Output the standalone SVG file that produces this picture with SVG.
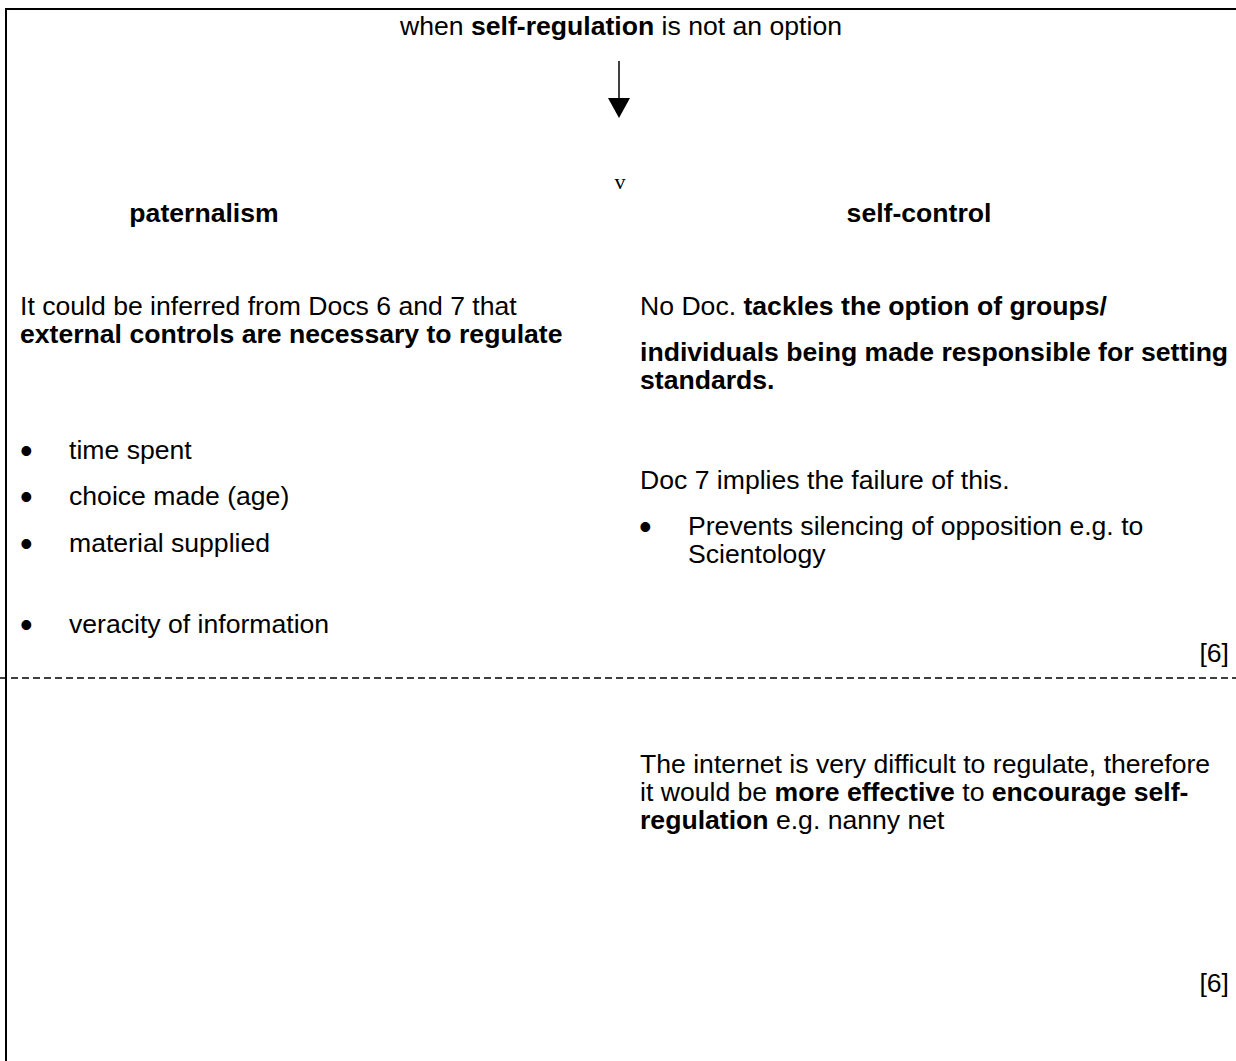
<svg xmlns="http://www.w3.org/2000/svg" width="1236" height="1061" viewBox="0 0 1236 1061">
<style>
text{font-family:"Liberation Sans",Arial,sans-serif;font-size:26.6px;fill:#000}
.b{font-weight:bold}
.bul{font-size:36px}
.serif{font-family:"Liberation Serif","Times New Roman",serif;font-size:22px}
.frame{stroke:#000;stroke-width:2;fill:none}
.dash{stroke:#000;stroke-width:1.5;stroke-dasharray:7 4;fill:none}
</style>
<rect width="1236" height="1061" fill="#fff"/>
<g id="frame">
<path class="frame" d="M6,1061 V9 H1236"/>
<line class="dash" x1="0" y1="678" x2="1236" y2="678"/>
</g>
<g id="connectors">
<path d="M619,61 V98" stroke="#000" stroke-width="1.5"/>
<path d="M608,98 L630,98 L619,118 Z" fill="#000"/>
</g>
<g id="header">
<text x="621" y="35" text-anchor="middle">when <tspan class="b">self-regulation</tspan> is not an option</text>
<text class="serif" x="620" y="189" text-anchor="middle">v</text>
</g>
<g id="paternalism">
<text class="b" x="204" y="222" text-anchor="middle">paternalism</text>
<text x="20" y="315">It could be inferred from Docs 6 and 7 that</text>
<text class="b" x="20" y="343">external controls are necessary to regulate</text>
<text class="bul" x="20" y="463">•</text><text x="69" y="459">time spent</text>
<text class="bul" x="20" y="509">•</text><text x="69" y="505">choice made (age)</text>
<text class="bul" x="20" y="556">•</text><text x="69" y="552">material supplied</text>
<text class="bul" x="20" y="637">•</text><text x="69" y="633">veracity of information</text>
</g>
<g id="self-control">
<text class="b" x="919" y="222" text-anchor="middle">self-control</text>
<text x="640" y="315">No Doc. <tspan class="b">tackles the option of groups/</tspan></text>
<text class="b" x="640" y="361">individuals being made responsible for setting</text>
<text class="b" x="640" y="389">standards.</text>
<text x="640" y="489">Doc 7 implies the failure of this.</text>
<text class="bul" x="639" y="539">•</text><text x="688" y="535">Prevents silencing of opposition e.g. to</text>
<text x="688" y="563">Scientology</text>
<text x="1229" y="662" text-anchor="end">[6]</text>
</g>
<g id="lower">
<text x="640" y="773">The internet is very difficult to regulate, therefore</text>
<text x="640" y="801">it would be <tspan class="b">more effective</tspan> to <tspan class="b">encourage self-</tspan></text>
<text class="b" x="640" y="829">regulation <tspan font-weight="normal">e.g. nanny net</tspan></text>
<text x="1229" y="992" text-anchor="end">[6]</text>
</g>
</svg>
